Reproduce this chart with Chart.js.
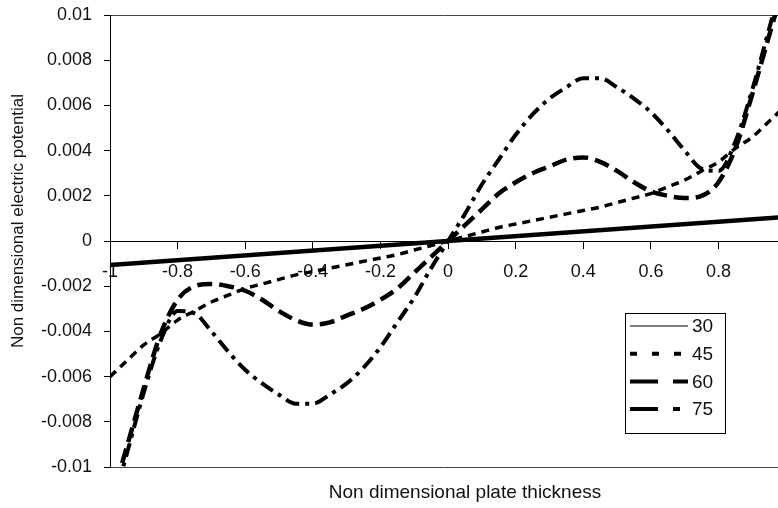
<!DOCTYPE html>
<html lang="en">
<head>
<meta charset="UTF-8">
<title>Non dimensional electric potential</title>
<script src="https://cdn.jsdelivr.net/npm/chart.js"></script>
<style>
  html, body { margin: 0; padding: 0; background: #fff; }
  #wrap { width: 778px; height: 508px; position: relative; }
</style>
</head>
<body>
<div id="wrap"><canvas id="potChart"></canvas></div>
<script>
// thickness positions (-1 .. 1)
const thickness = [-1, -0.95, -0.9, -0.85, -0.8, -0.75, -0.7, -0.65, -0.6, -0.55, -0.5,
  -0.45, -0.4, -0.35, -0.3, -0.25, -0.2, -0.15, -0.1, -0.05, 0,
  0.05, 0.1, 0.15, 0.2, 0.25, 0.3, 0.35, 0.4, 0.45, 0.5,
  0.55, 0.6, 0.65, 0.7, 0.75, 0.8, 0.85, 0.9, 0.95, 1];

// 30 is a straight line, only the two ends
const ends30 = [-1, 1];
const pot30 = [-0.00106, 0.00106];

const pot45 = [-0.006, -0.0053, -0.0046, -0.0041, -0.0035, -0.0031, -0.0027, -0.0024, -0.0021, -0.0019, -0.0017,
  -0.0015, -0.00135, -0.0012, -0.00105, -0.0009, -0.00075, -0.0006, -0.0004, -0.0002, 0,
  0.0002, 0.0004, 0.0006, 0.00075, 0.0009, 0.00105, 0.0012, 0.00135, 0.0015, 0.0017,
  0.0019, 0.0021, 0.0024, 0.0027, 0.0031, 0.0035, 0.0041, 0.0046, 0.0053, 0.006];

const pot60 = [-0.0117, -0.0091, -0.0065, -0.0041, -0.0026, -0.002, -0.0019, -0.002, -0.0022, -0.0026, -0.0031,
  -0.0035, -0.0037, -0.0036, -0.0033, -0.003, -0.0026, -0.0021, -0.0014, -0.0007, 0,
  0.0007, 0.0014, 0.0021, 0.0026, 0.003, 0.0033, 0.0036, 0.0037, 0.0035, 0.0031,
  0.0026, 0.0022, 0.002, 0.0019, 0.002, 0.0026, 0.0041, 0.0065, 0.0091, 0.0117];

const pot75 = [-0.0121, -0.0094, -0.0067, -0.0044, -0.0031, -0.0032, -0.004, -0.0049, -0.0057, -0.0063, -0.0068,
  -0.0072, -0.0072, -0.0068, -0.0063, -0.0056, -0.0047, -0.0036, -0.0025, -0.0012, 0,
  0.0012, 0.0025, 0.0036, 0.0047, 0.0056, 0.0063, 0.0068, 0.0072, 0.0072, 0.0068,
  0.0063, 0.0057, 0.0049, 0.004, 0.0032, 0.0031, 0.0044, 0.0067, 0.0094, 0.0121];

const seriesNames = ['30', '45', '60', '75'];

const xTicks = [-1, -0.8, -0.6, -0.4, -0.2, 0, 0.2, 0.4, 0.6, 0.8];
const xTickLabels = ['-1', '-0.8', '-0.6', '-0.4', '-0.2', '0', '0.2', '0.4', '0.6', '0.8'];
const yTicks = [-0.01, -0.008, -0.006, -0.004, -0.002, 0, 0.002, 0.004, 0.006, 0.008, 0.01];
const yTickLabels = ['-0.01', '-0.008', '-0.006', '-0.004', '-0.002', '0', '0.002', '0.004', '0.006', '0.008', '0.01'];

const xTitle = 'Non dimensional plate thickness';
const yTitle = 'Non dimensional electric potential';

const FONT = '"Liberation Sans", Arial, sans-serif';

function pts(xs, ys) {
  return xs.map((x, i) => ({ x: x, y: ys[i] }));
}

// axis titles sit a bit off-centre in the original, so draw them here
const axisTitles = {
  id: 'axisTitles',
  afterDraw(chart) {
    const c = chart.ctx;
    c.save();
    c.fillStyle = '#111';
    c.textAlign = 'center';
    c.textBaseline = 'middle';
    c.font = '19px ' + FONT;
    c.fillText(xTitle, 465, 493);
    c.translate(18, 221);
    c.rotate(-Math.PI / 2);
    c.font = '17px ' + FONT;
    c.fillText(yTitle, 0, 0);
    c.restore();
  }
};

// legend drawn inside the plot with a frame, like the original
const legendBox = {
  id: 'legendBox',
  afterDraw(chart) {
    const c = chart.ctx;
    const samples = [
      { dash: [], width: 1 },
      { dash: [7, 15], width: 4 },
      { dash: [28, 15], width: 4 },
      { dash: [28, 15, 7, 15], width: 4 }
    ];
    c.save();
    c.fillStyle = '#fff';
    c.fillRect(625.5, 313.5, 100, 120);
    c.strokeStyle = '#000';
    c.lineWidth = 1;
    c.strokeRect(625.5, 313.5, 100, 120);
    chart.data.datasets.forEach((ds, i) => {
      const y = 326 + i * 27.7;
      c.beginPath();
      c.setLineDash(samples[i].dash);
      c.lineWidth = samples[i].width;
      c.strokeStyle = '#000';
      c.moveTo(630, y);
      c.lineTo(688, y);
      c.stroke();
      c.setLineDash([]);
      c.fillStyle = '#111';
      c.font = '19px ' + FONT;
      c.textBaseline = 'middle';
      c.textAlign = 'left';
      c.fillText(ds.label, 692, y + 1);
    });
    c.restore();
  }
};

const ctx = document.getElementById('potChart').getContext('2d');

new Chart(ctx, {
  type: 'line',
  data: {
    datasets: [
      { label: seriesNames[0], data: pts(ends30, pot30), borderColor: '#000', borderWidth: 4.5, clip: 0 },
      { label: seriesNames[1], data: pts(thickness, pot45), borderColor: '#000', borderWidth: 3.5, borderDash: [8, 6], clip: 0 },
      { label: seriesNames[2], data: pts(thickness, pot60), borderColor: '#000', borderWidth: 4.5, borderDash: [15, 7], clip: 0 },
      { label: seriesNames[3], data: pts(thickness, pot75), borderColor: '#000', borderWidth: 4, borderDash: [14, 6, 4, 6], clip: 0 }
    ]
  },
  options: {
    responsive: true,
    maintainAspectRatio: false,
    animation: false,
    layout: { padding: { top: 15, right: 0, bottom: 41, left: 0 } },
    elements: {
      point: { radius: 0 },
      line: { cubicInterpolationMode: 'monotone', fill: false }
    },
    plugins: {
      legend: { display: false },
      tooltip: { enabled: false },
      title: { display: false }
    },
    scales: {
      x: {
        type: 'linear',
        min: -1,
        max: 0.976,
        position: { y: 0 },
        afterBuildTicks: (s) => { s.ticks = xTicks.map(v => ({ value: v })); },
        ticks: {
          autoSkip: false,
          maxRotation: 0,
          padding: 13,
          color: '#111',
          font: { family: FONT, size: 18 },
          callback: (v, i) => xTickLabels[i]
        },
        grid: { drawOnChartArea: false, tickLength: 7, tickColor: '#000' },
        border: { color: '#000', width: 1 }
      },
      y: {
        min: -0.01,
        max: 0.01,
        afterBuildTicks: (s) => { s.ticks = yTicks.map(v => ({ value: v })); },
        afterFit: (s) => {
          s.width = 110;
          // keep the label overhang from pushing the plot down
          s.paddingTop = 10;
          s.paddingBottom = 10;
        },
        ticks: {
          padding: 12,
          color: '#111',
          font: { family: FONT, size: 18 },
          callback: (v, i) => yTickLabels[i]
        },
        grid: {
          color: (c) => (c.tick && Math.abs(c.tick.value) > 0.0099) ? '#444' : 'rgba(0,0,0,0)',
          tickLength: 6,
          tickColor: '#000'
        },
        border: { color: '#000', width: 1 }
      }
    }
  },
  plugins: [legendBox, axisTitles]
});
</script>
</body>
</html>
